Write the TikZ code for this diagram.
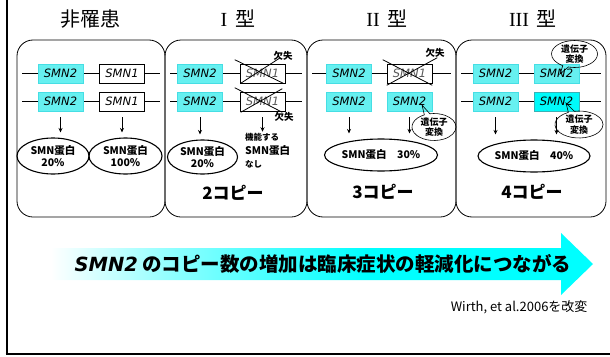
\documentclass[tikz,border=0pt]{standalone}
\usepackage{fontspec}
\setmainfont{Noto Sans CJK JP}
\newfontfamily\latf{DejaVu Sans}
\newfontfamily\serf{Liberation Serif}
\usetikzlibrary{shapes.geometric,shapes.callouts,arrows.meta,calc}
\definecolor{genecyan}{RGB}{102,240,240}
\definecolor{genecyanD}{RGB}{70,222,228}
\definecolor{brightcyan}{RGB}{0,250,250}
\pgfdeclarehorizontalshading{arrowshade}{100bp}{color(0bp)=(white); color(27bp)=(white); color(38bp)=(cyan!45); color(55bp)=(cyan); color(100bp)=(cyan)}
\begin{document}
\begin{tikzpicture}[x=1pt,y=-1pt,
  panel/.style={draw, rounded corners=16pt, line width=0.8pt},
  title/.style={font=\fontsize{20}{22}\selectfont},
  genebase/.style={minimum width=45pt, minimum height=19pt, inner sep=0pt, font=\latf\itshape\fontsize{11.5}{13}\selectfont},
  gtwo/.style={genebase, fill=genecyan, draw=genecyanD, line width=0.5pt},
  gtwob/.style={genebase, fill=brightcyan, draw=genecyanD!80!black, line width=0.6pt},
  gone/.style={genebase, fill=white, draw=black, line width=0.6pt},
  glost/.style={genebase, fill=white, draw=black, line width=0.6pt, text=black!65},
  xline/.style={line width=0.8pt},
  prot/.style={ellipse, draw, line width=1.1pt, inner sep=0pt, align=center, font=\bfseries\fontsize{10.5}{12.5}\selectfont},
  arr/.style={-{Stealth[length=4.5pt,width=4pt]}, line width=0.9pt, shorten <=6pt, shorten >=5pt},
  conv/.style={ellipse callout, draw, line width=0.6pt, inner sep=0pt, minimum width=44pt, minimum height=26pt, align=center, font=\bfseries\fontsize{9}{10.5}\selectfont},
  lostlbl/.style={font=\bfseries\fontsize{9.5}{11}\selectfont},
  copylbl/.style={font=\bfseries\fontsize{17}{19}\selectfont},
  rowline/.style={line width=0.8pt}
]
\useasboundingbox (0,0) rectangle (610,356);
% outer frame
\draw[line width=2pt] (6.5,0) -- (6.5,354);
\draw[line width=1.2pt] (5.5,354) -- (610,354);

% titles
\node[title] (t1) at (90,19) {非罹患};
\node[title] (t2) at (238,19) {{\serf I}\hspace{8pt}型};
\node[title] (t3) at (387,19) {{\serf II}\hspace{8pt}型};
\node[title] (t4) at (533,19) {{\serf III}\hspace{8pt}型};

% panels
\draw[panel] (17,40) rectangle (165,217);
\draw[panel] (165,40) rectangle (307,217);
\draw[panel] (307,40) rectangle (456,217);
\draw[panel] (456,40) rectangle (606,217);

% row lines
\draw[rowline] (22,73.5) -- (160,73.5);
\draw[rowline] (22,101.5) -- (160,101.5);
\draw[rowline] (170,73.5) -- (302,73.5);
\draw[rowline] (170,101.5) -- (302,101.5);
\draw[rowline] (312,73.5) -- (451,73.5);
\draw[rowline] (461,73.5) -- (601,73.5);
\draw[rowline] (461,101.5) -- (601,101.5);

% panel 1
\node[gtwo] (a1) at (60.5,73.5) {SMN2};
\node[gone] (a2) at (122,73.5) {SMN1};
\node[gtwo] (a3) at (60.5,101.5) {SMN2};
\node[gone] (a4) at (122,101.5) {SMN1};
\node[prot, minimum width=72pt, minimum height=36pt] (ap1) at (53,156) {SMN蛋白\\20\%};
\node[prot, minimum width=73pt, minimum height=36pt] (ap2) at (125.5,156) {SMN蛋白\\100\%};
\draw[arr] (a3.south) -- (a3.south |- ap1.north);
\draw[arr] (a4.south) -- (a4.south |- ap2.north);

% panel 2
\node[gtwo] (b1) at (200,73.5) {SMN2};
\node[glost] (b2) at (262.5,73.5) {SMN1};
\node[gtwo] (b3) at (200,101.5) {SMN2};
\node[glost] (b4) at (262.5,101.5) {SMN1};
\draw[xline] ($(b2.north west)+(-5,-4)$) -- ($(b2.south east)+(-2,0)$);
\draw[xline] ($(b2.south west)+(1,0)$) -- ($(b2.north east)+(-5,-6)$);
\draw[xline] ($(b4.north west)+(-5,-4)$) -- ($(b4.south east)+(-3,1)$);
\draw[xline] ($(b4.south west)+(1,1)$) -- ($(b4.north east)+(-3,-3)$);
\node[lostlbl] (bl1) at (283,56) {欠失};
\node[lostlbl] (bl2) at (284,117) {欠失};
\node[prot, minimum width=70pt, minimum height=34pt] (bp1) at (202.5,157) {SMN蛋白\\20\%};
\node[anchor=west, inner sep=0pt, font=\bfseries\fontsize{8.5}{10}\selectfont] (bf1) at (245,137) {機能する};
\node[anchor=west, inner sep=0pt, font=\bfseries\fontsize{10.5}{12}\selectfont] (bf2) at (245,151) {SMN蛋白};
\node[anchor=west, inner sep=0pt, font=\bfseries\fontsize{8.5}{10}\selectfont] (bf3) at (245,164) {なし};
\draw[arr] (b3.south) -- (b3.south |- bp1.north);
\draw[arr, shorten >=1pt] (b4.south) -- (b4.south |- bf1.north);
\node[copylbl] (bc) at (233,193) {2コピー};

% panel 3
\node[gtwo] (c1) at (349,73.5) {SMN2};
\node[glost] (c2) at (409.5,73.5) {SMN1};
\node[gtwo] (c3) at (349,101.5) {SMN2};
\node[gtwo] (c4) at (409.5,101.5) {SMN2};
\draw[xline] ($(c2.north west)+(-4,-4)$) -- ($(c2.south east)+(0,2)$);
\draw[xline] ($(c2.south west)+(0,2)$) -- ($(c2.north east)+(5,-6)$);
\node[lostlbl] (cl1) at (435,53) {欠失};
\node[conv, callout absolute pointer={(422,105)}] (cv1) at (434,127) {遺伝子\\変換};
\node[prot, minimum width=113pt, minimum height=32pt] (cp) at (381,155) {SMN蛋白\quad 30\%};
\draw[arr] (c3.south) -- (c3.south |- cp.north);
\draw[arr] (c4.south) -- (c4.south |- cp.north);
\node[copylbl] (cc) at (383,192) {3コピー};

% panel 4
\node[gtwo] (d1) at (495.5,73.5) {SMN2};
\node[gtwo] (d2) at (556.5,73.5) {SMN2};
\node[gtwo] (d3) at (495.5,101.5) {SMN2};
\node[gtwob] (d4) at (556.5,101.5) {SMN2};
\node[conv, minimum width=46pt, minimum height=26pt, callout absolute pointer={(560,74)}] (dv1) at (574.5,54) {遺伝子\\変換};
\node[conv, minimum width=48pt, minimum height=26pt, callout absolute pointer={(566,103)}] (dv2) at (579,124.5) {遺伝子\\変換};
\node[prot, minimum width=112pt, minimum height=32pt] (dp) at (534,156) {SMN蛋白\quad 40\%};
\draw[arr] (d3.south) -- (d3.south |- dp.north);
\draw[arr] (d4.south) -- (d4.south |- dp.north);
\node[copylbl] (dc) at (532,192) {4コピー};

% big arrow
\shade[shading=arrowshade] (28,248) -- (561,248) -- (561,233) -- (593,264) -- (561,295) -- (561,280) -- (28,280) -- cycle;
\node[font=\bfseries\fontsize{19.5}{22}\selectfont] (msg) at (323,264) {{\latf\itshape SMN2} のコピー数の増加は臨床症状の軽減化につながる};
\node[anchor=east, font=\fontsize{13}{15}\selectfont] (cite) at (591,307) {Wirth, et al.2006を改変};
\end{tikzpicture}
\end{document}
